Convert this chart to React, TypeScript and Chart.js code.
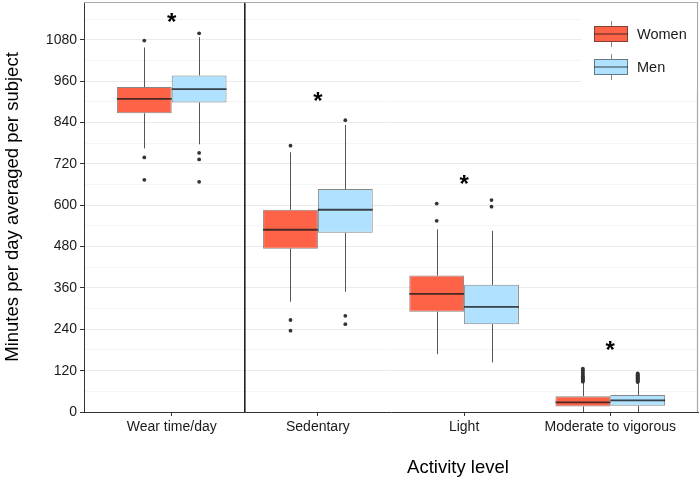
import React, { useEffect, useRef } from "react";
import { Chart, registerables } from "chart.js";

Chart.register(...registerables);

// ---------- data ----------
const categories = ["Wear time/day", "Sedentary", "Light", "Moderate to vigorous"];
const seriesNames = ["Women", "Men"];

const womenLow = [765, 320, 168, 0];
const womenQ1 = [867, 474, 291, 16];
const womenMedian = [909, 529, 343, 28];
const womenQ3 = [943, 587, 396, 46];
const womenHigh = [1058, 754, 530, 85];
const womenOutliers = [
  [1078, 739, 674],
  [773, 267, 236],
  [605, 555],
  [88, 91, 94, 97, 100, 104, 109, 115, 121, 126],
];

const menLow = [777, 349, 144, 0];
const menQ1 = [898, 520, 255, 18];
const menMedian = [937, 587, 305, 34];
const menQ3 = [977, 647, 369, 49];
const menHigh = [1088, 833, 526, 84];
const menOutliers = [
  [1099, 752, 733, 668],
  [847, 279, 255],
  [615, 596],
  [87, 89, 91, 93, 95, 97, 99, 101, 103, 105, 107, 109, 112],
];

// significance markers ("*") placed above each category, in data units
const starLabels = ["*", "*", "*", "*"];
const starValues = [1148, 920, 678, 196];

const yTickValues = [0, 60, 120, 180, 240, 300, 360, 420, 480, 540, 600, 660, 720, 780, 840, 900, 960, 1020, 1080, 1140];
const yLabelStep = 120;
const yMax = 1190;
const xMin = 0.4;
const xMax = 4.6;
const dividerValue = 1.5;

const xTitle = "Activity level";
const yTitle = "Minutes per day averaged per subject";

// ---------- styles ----------
const FONT = "'Liberation Sans', Arial, Helvetica, sans-serif";
const WOMEN_FILL = "#FF6347";
const MEN_FILL = "#B0E2FF";
const BOX_BORDER = "rgba(35,35,35,0.55)";
const MEDIAN = "rgba(25,25,25,0.8)";
const WHISKER = "#555555";
const OUTLIER = "#333333";
const AXIS = "#333333";
const TEXT = "#1a1a1a";

const groups = [
  { low: womenLow, q1: womenQ1, med: womenMedian, q3: womenQ3, high: womenHigh, out: womenOutliers },
  { low: menLow, q1: menQ1, med: menMedian, q3: menQ3, high: menHigh, out: menOutliers },
];

const crisp = (v: number) => Math.round(v) + 0.5;

const boxPlugin = {
  id: "boxplotParts",
  beforeDatasetsDraw(chart: any) {
    const ctx = chart.ctx;
    const ys = chart.scales.y;
    ctx.save();
    ctx.strokeStyle = WHISKER;
    ctx.lineWidth = 1;
    groups.forEach((g, di) => {
      const meta = chart.getDatasetMeta(di);
      meta.data.forEach((el: any, i: number) => {
        const x = crisp(el.x);
        ctx.beginPath();
        ctx.moveTo(x, ys.getPixelForValue(g.high[i]));
        ctx.lineTo(x, ys.getPixelForValue(g.q3[i]));
        ctx.moveTo(x, ys.getPixelForValue(g.q1[i]));
        ctx.lineTo(x, ys.getPixelForValue(g.low[i]));
        ctx.stroke();
      });
    });
    ctx.restore();
  },
  afterDatasetsDraw(chart: any) {
    const ctx = chart.ctx;
    const ys = chart.scales.y;
    const xs = chart.scales.x;
    const area = chart.chartArea;
    ctx.save();
    groups.forEach((g, di) => {
      const meta = chart.getDatasetMeta(di);
      meta.data.forEach((el: any, i: number) => {
        const half = el.width / 2;
        const ym = ys.getPixelForValue(g.med[i]);
        ctx.strokeStyle = MEDIAN;
        ctx.lineWidth = 1.8;
        ctx.beginPath();
        ctx.moveTo(el.x - half, ym);
        ctx.lineTo(el.x + half, ym);
        ctx.stroke();
        ctx.fillStyle = OUTLIER;
        g.out[i].forEach((v: number) => {
          ctx.beginPath();
          ctx.arc(el.x, ys.getPixelForValue(v), 1.9, 0, Math.PI * 2);
          ctx.fill();
        });
      });
    });
    // divider line
    const dx = xs.getPixelForValue(dividerValue);
    ctx.strokeStyle = "#222222";
    ctx.lineWidth = 1.6;
    ctx.beginPath();
    ctx.moveTo(dx, area.top);
    ctx.lineTo(dx, area.bottom);
    ctx.stroke();
    ctx.restore();
  },
  afterDraw(chart: any) {
    const ctx = chart.ctx;
    const ys = chart.scales.y;
    const xs = chart.scales.x;
    const area = chart.chartArea;
    ctx.save();
    // top and right panel border
    ctx.strokeStyle = "#a8a8a8";
    ctx.lineWidth = 1.2;
    ctx.beginPath();
    ctx.moveTo(area.left, area.top + 0.5);
    ctx.lineTo(area.right - 0.5, area.top + 0.5);
    ctx.lineTo(area.right - 0.5, area.bottom);
    ctx.stroke();

    // stars
    const starSize = 24;
    ctx.fillStyle = "#000";
    ctx.font = `bold ${starSize}px ${FONT}`;
    ctx.textAlign = "center";
    ctx.textBaseline = "alphabetic";
    starLabels.forEach((s, i) => {
      const cx = xs.getPixelForValue(i + 1);
      const cy = ys.getPixelForValue(starValues[i]);
      ctx.fillText(s, cx, cy + starSize * 0.57);
    });

    // legend
    ctx.fillStyle = "#ffffff";
    ctx.fillRect(581, area.top + 6, area.right - 582, 82);
    const keys = [
      { fill: WOMEN_FILL, top: 26, bottom: 42, wTop: 21, wBottom: 47 },
      { fill: MEN_FILL, top: 59, bottom: 75, wTop: 54, wBottom: 80 },
    ];
    keys.forEach((k, i) => {
      const left = 594;
      const right = 628;
      const cx = (left + right) / 2;
      ctx.strokeStyle = "#8a8a8a";
      ctx.lineWidth = 1;
      ctx.beginPath();
      ctx.moveTo(crisp(cx), k.wTop);
      ctx.lineTo(crisp(cx), k.wBottom);
      ctx.stroke();
      ctx.fillStyle = k.fill;
      ctx.fillRect(left, k.top, right - left, k.bottom - k.top);
      ctx.strokeStyle = BOX_BORDER;
      ctx.strokeRect(left + 0.5, k.top + 0.5, right - left - 1, k.bottom - k.top - 1);
      const mid = (k.top + k.bottom) / 2;
      ctx.strokeStyle = MEDIAN;
      ctx.lineWidth = 1.2;
      ctx.beginPath();
      ctx.moveTo(left, mid);
      ctx.lineTo(right, mid);
      ctx.stroke();
      ctx.fillStyle = TEXT;
      ctx.font = `14.5px ${FONT}`;
      ctx.textAlign = "left";
      ctx.textBaseline = "middle";
      ctx.fillText(seriesNames[i], 637, mid + 1);
    });

    // axis titles
    ctx.fillStyle = "#000";
    ctx.font = `18.5px ${FONT}`;
    ctx.textAlign = "center";
    ctx.textBaseline = "alphabetic";
    ctx.fillText(xTitle, 458, 473);
    ctx.translate(17.5, (area.top + area.bottom) / 2);
    ctx.rotate(-Math.PI / 2);
    ctx.fillText(yTitle, 0, 0);
    ctx.restore();
  },
};

export default function App() {
  const canvasRef = useRef<HTMLCanvasElement | null>(null);

  useEffect(() => {
    document.body.style.margin = "0";
    const canvas = canvasRef.current;
    if (!canvas) return;
    const chart = new Chart(canvas, {
      type: "bar",
      data: {
        datasets: [
          {
            label: seriesNames[0],
            data: categories.map((_, i) => ({ x: i + 1, y: [womenQ1[i], womenQ3[i]] })) as any,
            backgroundColor: WOMEN_FILL,
            borderColor: BOX_BORDER,
            borderWidth: 1,
            borderSkipped: false,
            categoryPercentage: 0.75,
            barPercentage: 1,
          },
          {
            label: seriesNames[1],
            data: categories.map((_, i) => ({ x: i + 1, y: [menQ1[i], menQ3[i]] })) as any,
            backgroundColor: MEN_FILL,
            borderColor: BOX_BORDER,
            borderWidth: 1,
            borderSkipped: false,
            categoryPercentage: 0.75,
            barPercentage: 1,
          },
        ],
      },
      options: {
        animation: false,
        responsive: false,
        maintainAspectRatio: false,
        layout: { padding: { top: 2, right: 2, left: 0, bottom: 0 } },
        plugins: {
          legend: { display: false },
          tooltip: { enabled: false },
        },
        scales: {
          x: {
            type: "linear",
            min: xMin,
            max: xMax,
            offset: false,
            afterBuildTicks: (s: any) => {
              s.ticks = categories.map((_, i) => ({ value: i + 1 }));
            },
            afterFit: (s: any) => {
              s.height = 68;
              s.paddingLeft = 0;
              s.paddingRight = 0;
            },
            ticks: {
              autoSkip: false,
              maxRotation: 0,
              padding: 3,
              color: TEXT,
              font: { family: FONT, size: 14 },
              callback: (v: any) => categories[Math.round(Number(v)) - 1] ?? "",
            },
            grid: {
              offset: false,
              drawOnChartArea: false,
              tickLength: 4,
              tickColor: AXIS,
              tickWidth: 1,
            },
            border: { color: AXIS, width: 1 },
          },
          y: {
            type: "linear",
            min: 0,
            max: yMax,
            afterBuildTicks: (s: any) => {
              s.ticks = yTickValues.map((v) => ({ value: v }));
            },
            afterFit: (s: any) => {
              s.width = 84;
              s.paddingTop = 0;
              s.paddingBottom = 0;
            },
            ticks: {
              padding: 3,
              color: TEXT,
              font: { family: FONT, size: 14 },
              callback: (v: any) => (Number(v) % yLabelStep === 0 ? String(v) : ""),
            },
            grid: {
              color: (c: any) => (c.tick && c.tick.value % yLabelStep === 0 ? "#ebebeb" : "#f5f5f5"),
              tickColor: (c: any) => (c.tick && c.tick.value % yLabelStep === 0 ? AXIS : "rgba(0,0,0,0)"),
              tickLength: 4,
              lineWidth: 1,
            },
            border: { color: AXIS, width: 1 },
          },
        },
      },
      plugins: [boxPlugin],
    });
    return () => chart.destroy();
  }, []);

  return (
    <div style={{ width: 700, height: 480, background: "#fff" }}>
      <canvas ref={canvasRef} width={700} height={480} style={{ display: "block" }} />
    </div>
  );
}
